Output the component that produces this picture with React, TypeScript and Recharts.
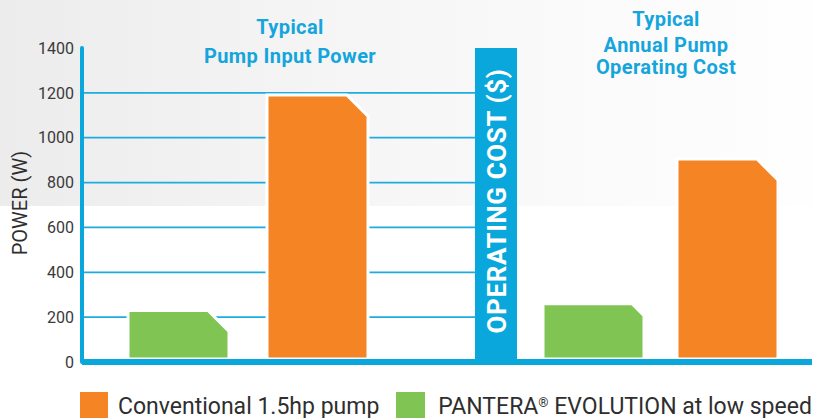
import React from 'react';
import { BarChart, Bar, XAxis, YAxis, CartesianGrid, Label } from 'recharts';

// ---- data ----
const metrics = ['Pump Input Power', 'Annual Pump Operating Cost'];
const seriesNames = ['Conventional 1.5hp pump', 'PANTERA® EVOLUTION at low speed'];
const conventional = [1190, 905];
const pantera = [230, 260];
const powerTicks = [0, 200, 400, 600, 800, 1000, 1200, 1400];
const gridTicks = [200, 400, 600, 800, 1000, 1200];
const leftTitle = ['Typical', 'Pump Input Power'];
const rightTitle = ['Typical', 'Annual Pump', 'Operating Cost'];
const yLabel = 'POWER (W)';
const bandLabel = 'OPERATING COST ($)';

const BLUE = '#0aa7dc';
const GRID = '#1eacdf';
const ORANGE = '#f48424';
const GREEN = '#80c454';
const TITLE = '#14a5dc';
const FONT = 'Roboto, "Noto Sans", sans-serif';

const leftData = [{ metric: metrics[0], pantera: pantera[0], conventional: conventional[0] }];
const rightData = [{ metric: metrics[1], pantera: pantera[1], conventional: conventional[1] }];

const makeShape = (cut: number) => (props: any) => {
  const { x, y, width, height, fill } = props;
  if (height == null || height <= 0) return null;
  const b = y + height - 3;
  const c = Math.min(cut, height / 2);
  const d = `M${x},${b} L${x},${y} L${x + width - c},${y} L${x + width},${y + c} L${x + width},${b} Z`;
  return <path d={d} fill={fill} stroke="#ffffff" strokeWidth={3} strokeLinejoin="miter" />;
};

const tickStyle = { fontFamily: FONT, fontSize: 16, fill: '#3a3a3a' };

export default function App() {
  return (
    <div
      style={{
        position: 'absolute',
        left: 0,
        top: 0,
        width: 813,
        height: 418,
        overflow: 'hidden',
        background: '#ffffff',
        fontFamily: FONT,
      }}
    >
      <div
        style={{
          position: 'absolute',
          left: 0,
          top: 0,
          width: 813,
          height: 206,
          background: 'linear-gradient(to right, #ececec 0%, #f5f5f5 40%, #fafafa 70%, #fefefe 100%)',
        }}
      />
      {/* titles */}
      <div style={{ position: 'absolute', left: 190, top: 13, width: 200, textAlign: 'center', color: TITLE, fontWeight: 700, fontSize: 20, lineHeight: '29px', letterSpacing: 0.4 }}>
        {leftTitle.map((t) => (
          <div key={t}>{t}</div>
        ))}
      </div>
      <div style={{ position: 'absolute', left: 566, top: 8, width: 200, textAlign: 'center', color: TITLE, fontWeight: 700, fontSize: 20, lineHeight: '22px', letterSpacing: 0.4 }}>
        <div style={{ marginBottom: 4 }}>{rightTitle[0]}</div>
        <div>{rightTitle[1]}</div>
        <div>{rightTitle[2]}</div>
      </div>

      {/* left chart: power */}
      <div style={{ position: 'absolute', left: 0, top: 0 }}>
        <BarChart width={496} height={418} data={leftData} margin={{ top: 48, right: 0, left: 0, bottom: 52 }} barGap={38}>
          <CartesianGrid vertical={false} horizontalValues={gridTicks} stroke={GRID} strokeWidth={1.8} />
          <XAxis dataKey="metric" height={4} tick={false} tickLine={false} axisLine={{ stroke: BLUE, strokeWidth: 6 }} padding={{ left: 0, right: 83 }} />
          <YAxis
            width={82}
            domain={[0, 1400]}
            ticks={powerTicks}
            interval={0}
            tickLine={false}
            tick={tickStyle}
            axisLine={{ stroke: BLUE, strokeWidth: 4, strokeLinecap: 'round' }}
          >
            <Label
              content={(p: any) => {
                const vb = p.viewBox || {};
                const cx = 20;
                const cy = (vb.y ?? 48) + (vb.height ?? 314) / 2 - 2;
                return (
                  <text x={cx} y={cy} transform={`rotate(-90 ${cx} ${cy})`} textAnchor="middle" dominantBaseline="central" fontFamily={FONT} fontSize={20} fill="#2e2e2e">
                    {yLabel}
                  </text>
                );
              }}
            />
          </YAxis>
          <Bar dataKey="pantera" name={seriesNames[1]} fill={GREEN} barSize={101} isAnimationActive={false} shape={makeShape(21)} />
          <Bar dataKey="conventional" name={seriesNames[0]} fill={ORANGE} barSize={101} isAnimationActive={false} shape={makeShape(21)} />
        </BarChart>
      </div>

      {/* right chart: operating cost */}
      <div style={{ position: 'absolute', left: 454, top: 0 }}>
        <BarChart width={359} height={418} data={rightData} margin={{ top: 48, right: 1, left: 0, bottom: 52 }} barGap={33}>
          <CartesianGrid vertical={false} horizontalValues={gridTicks} stroke={GRID} strokeWidth={1.8} />
          <XAxis dataKey="metric" height={4} tick={false} tickLine={false} axisLine={{ stroke: BLUE, strokeWidth: 6 }} padding={{ left: 12, right: 0 }} />
          <YAxis
            width={42}
            domain={[0, 1400]}
            ticks={powerTicks}
            tick={false}
            tickLine={false}
            axisLine={{ stroke: BLUE, strokeWidth: 42 }}
          >
            <Label
              content={(p: any) => {
                const vb = p.viewBox || {};
                const cx = (vb.x ?? 0) + (vb.width ?? 42) + 1;
                const cy = (vb.y ?? 48) + (vb.height ?? 314) / 2 - 4;
                return (
                  <text x={cx} y={cy} transform={`rotate(-90 ${cx} ${cy})`} textAnchor="middle" dominantBaseline="central" fontFamily={FONT} fontWeight={700} fontSize={26} letterSpacing={0.6} fill="#ffffff">
                    {bandLabel}
                  </text>
                );
              }}
            />
          </YAxis>
          <YAxis yAxisId="r" orientation="right" width={0} domain={[0, 1400]} tick={false} tickLine={false} axisLine={{ stroke: BLUE, strokeWidth: 4, strokeLinecap: 'round' }} />
          <Bar dataKey="pantera" name={seriesNames[1]} fill={GREEN} barSize={101} isAnimationActive={false} shape={makeShape(12)} />
          <Bar dataKey="conventional" name={seriesNames[0]} fill={ORANGE} barSize={101} isAnimationActive={false} shape={makeShape(21)} />
        </BarChart>
      </div>

      {/* legend */}
      <div style={{ position: 'absolute', left: 80, top: 392, display: 'flex', alignItems: 'flex-start', whiteSpace: 'nowrap', color: '#2e2e2e', fontSize: 23 }}>
        <div style={{ width: 28, height: 28, background: ORANGE, marginRight: 10 }} />
        <div style={{ lineHeight: '30px', marginRight: 17, marginTop: 0 }}>{seriesNames[0]}</div>
        <div style={{ width: 29, height: 28, background: GREEN, marginRight: 13 }} />
        <div style={{ lineHeight: '30px' }}>
          {seriesNames[1].split('®')[0]}
          <sup style={{ fontSize: 13, verticalAlign: 'top', position: 'relative', top: -4 }}>®</sup>
          {seriesNames[1].split('®')[1]}
        </div>
      </div>
    </div>
  );
}
